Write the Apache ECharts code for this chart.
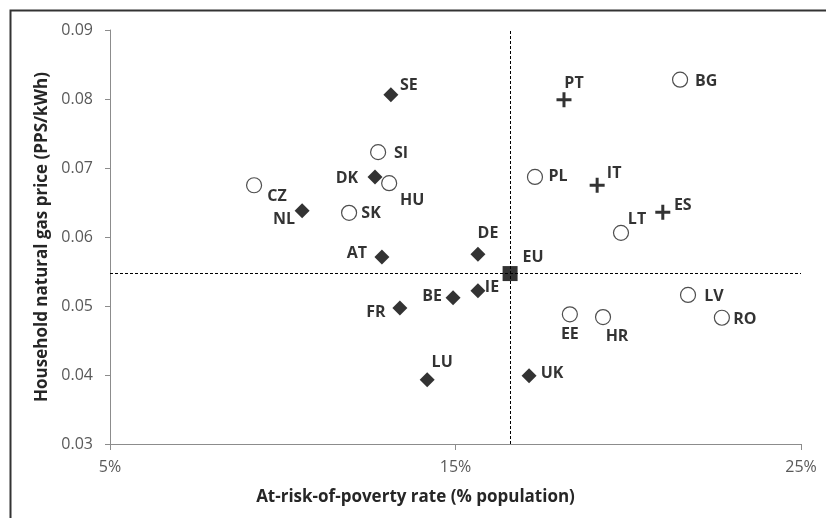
<!DOCTYPE html>
<html><head><meta charset="utf-8">
<script src="https://cdn.jsdelivr.net/npm/echarts@6/dist/echarts.min.js"></script>
<style>html,body{margin:0;padding:0;background:#fff}#c{width:826px;height:518px}</style>
</head><body><div id="c"></div>
<script>
// Data
const diamondNames = ['SE','DK','NL','AT','FR','DE','BE','IE','LU','UK'];
const diamondX = [13.13,12.67,10.56,12.87,13.39,15.65,14.93,15.65,14.18,17.13];
const diamondY = [0.0806,0.0687,0.0638,0.0571,0.0497,0.0575,0.0512,0.0522,0.0393,0.0399];

const circleNames = ['SI','HU','CZ','SK','EE','HR','LV','RO','BG','PL','LT'];
const circleX = [12.76,13.08,9.17,11.92,18.31,19.27,21.73,22.71,21.5,17.3,19.79];
const circleY = [0.0723,0.0678,0.0675,0.0635,0.0488,0.0484,0.0516,0.0483,0.0828,0.0687,0.0606];

const crossNames = ['PT','IT','ES'];
const crossX = [18.14,19.1,21.0];
const crossY = [0.0799,0.0675,0.0636];

const euName = 'EU';
const euX = 16.58;
const euY = 0.0547;

const xTicks = [5,15,25];
const yTicks = [0.03,0.04,0.05,0.06,0.07,0.08,0.09];

// Label offsets (style)
const labelOffset = {
  SE:[18,-9], SI:[23,1], DK:[-28,1], HU:[23,17], CZ:[23,11], NL:[-18,9], SK:[22,1],
  AT:[-25,-4], FR:[-24,4], DE:[10,-21], EU:[23,-16], BE:[-21,-1], IE:[14,-3],
  LU:[15,-17], UK:[23,-2], EE:[0,20], HR:[14,19], LV:[26,1], RO:[23,2],
  PT:[10,-16], BG:[26,2], PL:[23,-1], IT:[17,-12], ES:[20,-7], LT:[16,-13]
};

function build(names, xs, ys){
  return names.map((n,i)=>({name:n, value:[xs[i], ys[i]],
    label:{offset:labelOffset[n]||[0,0]}}));
}

const font = '"Open Sans", Lato, sans-serif';
const labelStyle = {show:true, position:'inside', formatter:p=>p.name,
  color:'#000', fontWeight:'bold', fontSize:16, fontFamily:font};

const chart = echarts.init(document.getElementById('c'));
chart.setOption({
  animation:false,
  backgroundColor:'#fff',
  graphic:[{type:'rect', left:8, top:8, shape:{x:0,y:0,width:840,height:540},
    style:{fill:'none', stroke:'#333', lineWidth:2}, silent:true}],
  grid:{left:110, right:25, top:30, bottom:74},
  xAxis:{type:'value', min:5, max:25, interval:10,
    name:'At-risk-of-poverty rate (% population)', nameLocation:'middle', nameGap:45,
    nameTextStyle:{fontWeight:'bold', fontSize:17, color:'#262626', fontFamily:font, padding:[0,80,0,0]},
    axisLine:{lineStyle:{color:'#8c8c8c', width:1}},
    axisTick:{show:true, length:6, lineStyle:{color:'#8c8c8c'}},
    axisLabel:{formatter:v=>xTicks.includes(v)?v+'%':'', color:'#595959', fontSize:16, margin:15, fontFamily:font},
    splitLine:{show:false}},
  yAxis:{type:'value', min:0.03, max:0.09, interval:0.01,
    name:'Household natural gas price (PPS/kWh)', nameLocation:'middle', nameGap:58,
    nameTextStyle:{fontWeight:'bold', fontSize:17, color:'#262626', fontFamily:font},
    axisLine:{show:true, lineStyle:{color:'#8c8c8c', width:1}},
    axisTick:{show:true, length:5, lineStyle:{color:'#8c8c8c'}},
    axisLabel:{formatter:v=>v.toFixed(2), color:'#595959', fontSize:16, margin:17, fontFamily:font},
    splitLine:{show:false}},
  series:[
    {type:'scatter', name:'diamond', symbol:'diamond', symbolSize:[15,15],
      itemStyle:{color:'#000'}, label:labelStyle, data:build(diamondNames,diamondX,diamondY)},
    {type:'scatter', name:'circle', symbol:'circle', symbolSize:15,
      itemStyle:{color:'#fff', borderColor:'#222', borderWidth:1.2}, label:labelStyle,
      data:build(circleNames,circleX,circleY)},
    {type:'scatter', name:'cross', symbol:'path://M6,0h3v6h6v3h-6v6h-3v-6h-6v-3h6z', symbolSize:15,
      itemStyle:{color:'#000'}, label:labelStyle, data:build(crossNames,crossX,crossY)},
    {type:'scatter', name:'eu', symbol:'rect', symbolSize:15, z:5,
      itemStyle:{color:'#000'}, label:labelStyle, data:build([euName],[euX],[euY]),
      markLine:{silent:true, symbol:'none', precision:5, label:{show:false},
        lineStyle:{color:'#000', type:[3,2], width:1},
        data:[{xAxis:euX},{yAxis:euY}]}}
  ]
});
</script></body></html>
